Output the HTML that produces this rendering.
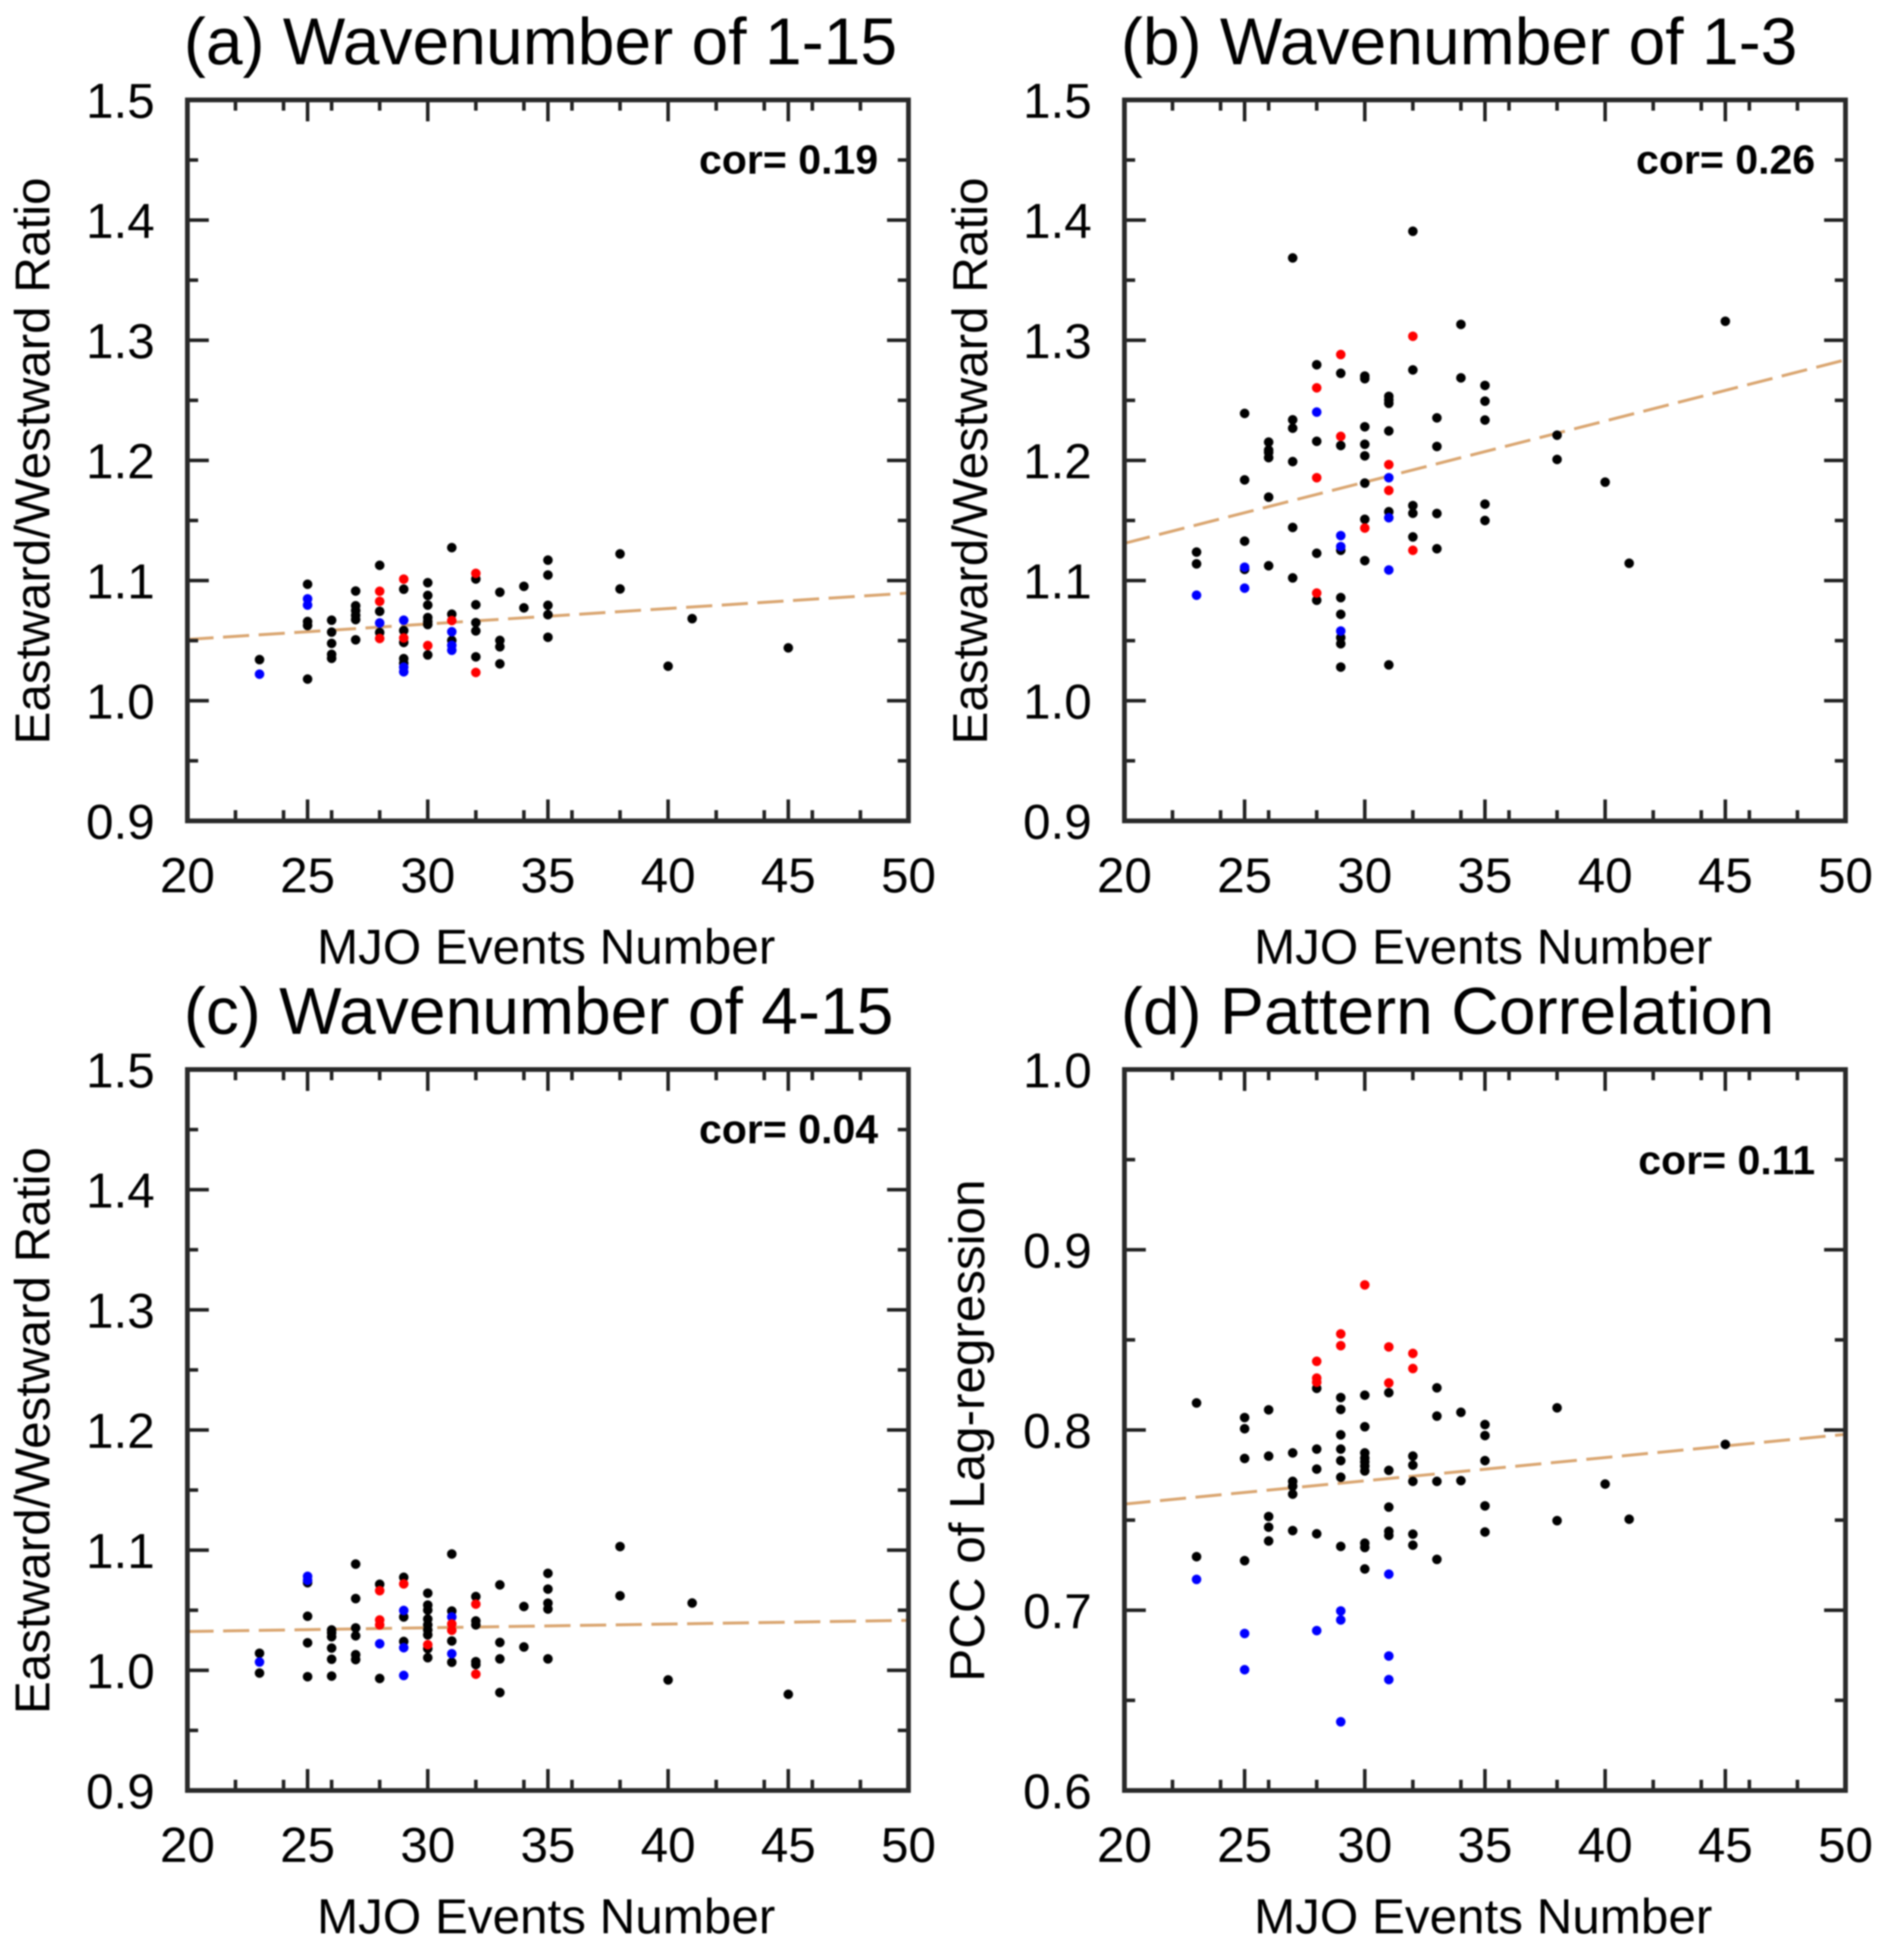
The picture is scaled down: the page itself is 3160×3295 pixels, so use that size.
<!DOCTYPE html>
<html lang="en">
<head>
<meta charset="utf-8">
<title>MJO Events Number vs Propagation Metrics</title>
<style>
html,body{margin:0;padding:0;background:#fff;}
body{width:3160px;height:3295px;overflow:hidden;}
#chart{display:block;filter:blur(1.3px);}
text{font-family:"Liberation Sans",Arial,sans-serif;fill:#000;}
</style>
</head>
<body>
<svg id="chart" xmlns="http://www.w3.org/2000/svg" width="3160" height="3295" viewBox="0 0 3160 3295"></svg>
<script>
// ---------- shared tick labels ----------
const xMajorTicks = [20, 25, 30, 35, 40, 45, 50];
const xMinorTicks = [22, 24, 26, 28, 32, 34, 36, 38, 42, 44, 46, 48];
const ratioMajorTicks = [0.9, 1.0, 1.1, 1.2, 1.3, 1.4, 1.5];
const ratioMinorTicks = [0.95, 1.05, 1.15, 1.25, 1.35, 1.45];
const pccMajorTicks = [0.6, 0.7, 0.8, 0.9, 1.0];
const pccMinorTicks = [0.65, 0.75, 0.85, 0.95];

// ---------- panel (a) ----------
const aBlackX = [23,25,25,25,25,26,26,26,26,26,27,27,27,27,27,27,28,28,28,29,29,29,29,29,30,30,30,30,30,30,30,31,31,31,32,32,32,32,32,33,33,33,33,34,34,35,35,35,35,35,38,38,40,41,45];
const aBlackY = [1.0342,1.0969,1.0659,1.0626,1.018,1.067,1.0571,1.0477,1.0386,1.0353,1.0913,1.079,1.075,1.071,1.0675,1.0507,1.1127,1.0744,1.0568,1.0928,1.0584,1.0485,1.035,1.0312,1.0982,1.0876,1.0796,1.0692,1.0659,1.0634,1.0381,1.1274,1.072,1.0502,1.1013,1.0799,1.065,1.0581,1.0365,1.0903,1.0502,1.0449,1.0307,1.0952,1.0773,1.117,1.1046,1.0794,1.0716,1.0528,1.1222,1.093,1.0287,1.0683,1.044];
const aBlueX = [23,25,25,28,29,29,29,31,31,31];
const aBlueY = [1.0221,1.0848,1.0796,1.0647,1.067,1.0279,1.0241,1.0574,1.0461,1.042];
const aRedX = [28,28,28,29,29,30,31,32,32];
const aRedY = [1.0911,1.0827,1.0518,1.1012,1.0522,1.0459,1.0667,1.106,1.0235];
const aTrend = [1.051, 1.0896];

// ---------- panel (b) ----------
const bBlackX = [23,23,25,25,25,25,26,26,26,26,26,26,27,27,27,27,27,27,28,28,28,28,29,29,29,29,29,29,29,29,30,30,30,30,30,30,30,30,31,31,31,31,31,31,32,32,32,32,32,33,33,33,33,34,34,35,35,35,35,35,38,38,40,41,45];
const bBlackY = [1.1237,1.1139,1.2391,1.1838,1.1328,1.1093,1.2152,1.2086,1.2066,1.2023,1.1694,1.1123,1.3685,1.2338,1.2268,1.199,1.1442,1.1022,1.2796,1.2159,1.1227,1.0836,1.2725,1.2124,1.1252,1.0858,1.0719,1.0525,1.0474,1.028,1.2702,1.268,1.228,1.2134,1.2038,1.1811,1.151,1.1166,1.2533,1.2503,1.2475,1.2245,1.1573,1.0298,1.3907,1.2753,1.1624,1.156,1.1363,1.2354,1.2116,1.1558,1.1265,1.3132,1.2687,1.2624,1.2493,1.2336,1.1636,1.15,1.221,1.2008,1.1819,1.1144,1.3158];
const bBlueX = [23,25,25,28,29,29,29,31,31,31];
const bBlueY = [1.0878,1.1111,1.0937,1.2402,1.1374,1.1283,1.058,1.1856,1.1523,1.1088];
const bRedX = [28,28,28,29,29,30,31,31,32,32];
const bRedY = [1.2604,1.1856,1.0896,1.2881,1.22,1.1437,1.1965,1.175,1.3033,1.1252];
const bTrend = [1.131, 1.2837];

// ---------- panel (c) ----------
const cBlackX = [23,23,25,25,25,25,26,26,26,26,26,26,27,27,27,27,27,27,28,28,29,29,29,30,30,30,30,30,30,30,30,30,31,31,31,31,32,32,32,32,32,33,33,33,33,34,34,35,35,35,35,35,38,38,40,41,45];
const cBlackY = [1.0142,0.9977,1.0729,1.045,1.0229,0.9947,1.0336,1.0312,1.0279,1.0185,1.0092,0.9952,1.0884,1.0597,1.0353,1.0287,1.013,1.0089,1.0716,0.9932,1.0774,1.0444,1.024,1.0642,1.0543,1.0501,1.0427,1.0378,1.0336,1.0295,1.018,1.0105,1.0968,1.0493,1.0244,1.0067,1.0614,1.0411,1.0378,1.0072,1.0048,1.0711,1.0232,1.0095,0.9815,1.0531,1.0194,1.0807,1.0676,1.0559,1.051,1.0095,1.103,1.062,0.992,1.056,0.98];
const cBlueX = [23,25,25,28,29,29,29,31,31];
const cBlueY = [1.0069,1.0782,1.0749,1.0221,1.0498,1.0188,0.9957,1.0444,1.0138];
const cRedX = [28,28,28,29,30,31,31,32,32];
const cRedY = [1.0663,1.0419,1.0378,1.0719,1.0213,1.0386,1.0333,1.0551,0.9968];
const cTrend = [1.0323, 1.0416];

// ---------- panel (d) ----------
const dBlackX = [23,23,25,25,25,25,26,26,26,26,26,27,27,27,27,27,28,28,28,28,29,29,29,29,29,29,29,30,30,30,30,30,30,30,30,30,30,31,31,31,31,31,32,32,32,32,32,33,33,33,33,34,34,35,35,35,35,35,38,38,40,41,45];
const dBlackY = [0.815,0.7297,0.8069,0.8007,0.7842,0.7275,0.8112,0.7855,0.752,0.7461,0.7384,0.7873,0.7715,0.7688,0.7644,0.7442,0.8231,0.7894,0.7783,0.7424,0.818,0.8114,0.7973,0.7894,0.783,0.7738,0.7354,0.8193,0.8018,0.7873,0.7844,0.7823,0.78,0.7773,0.7372,0.7348,0.7229,0.8207,0.7776,0.7572,0.7438,0.7415,0.7855,0.7805,0.7715,0.7422,0.7361,0.8234,0.8077,0.7715,0.7282,0.8098,0.7719,0.803,0.7969,0.783,0.7579,0.7434,0.8123,0.7497,0.77,0.7505,0.792];
const dBlueX = [23,25,25,28,29,29,29,31,31,31];
const dBlueY = [0.7171,0.6871,0.667,0.6887,0.6996,0.6946,0.6381,0.72,0.6746,0.6615];
const dRedX = [28,28,28,29,29,30,31,31,32,32];
const dRedY = [0.8381,0.8288,0.8265,0.8533,0.8468,0.8805,0.8461,0.8261,0.8425,0.8341];
const dTrend = [0.7589, 0.7976];

const SVG_NS = 'http://www.w3.org/2000/svg';
const root = document.getElementById('chart');

function make(parent, tag, attrs) {
  const el = document.createElementNS(SVG_NS, tag);
  for (const k in attrs) el.setAttribute(k, attrs[k]);
  parent.appendChild(el);
  return el;
}

function drawPanel(cfg) {
  const left = cfg.left, top = cfg.top, size = 1212;
  const right = left + size, bottom = top + size;
  const sx = v => left + (v - 20) / 30 * size;
  const sy = v => bottom - (v - cfg.yMin) / (cfg.yMax - cfg.yMin) * size;

  const g = make(root, 'g', {});
  
  

  // title
  const title = make(g, 'text', {x: left - 6, y: top - 60, 'font-size': 111});
  title.textContent = cfg.title;
  
  

  // trend line, clipped at the frame by construction
  const trend = make(g, 'line', {x1: sx(20), y1: sy(cfg.trend[0]), x2: sx(50), y2: sy(cfg.trend[1]), stroke: '#daa671', 'stroke-width': 5, 'stroke-dasharray': '44 16'});
  
  

  // points: black first, then blue, then red on top
  const groups = [
    {xs: cfg.blackX, ys: cfg.blackY, color: '#000'},
    {xs: cfg.blueX, ys: cfg.blueY, color: '#0000ff'},
    {xs: cfg.redX, ys: cfg.redY, color: '#ff0000'}
  ];
  groups.forEach(grp => {
    grp.xs.forEach((xv, i) => {
      const c = make(g, 'circle', {cx: sx(xv), cy: sy(grp.ys[i]), r: 8, fill: grp.color});
      
      
    });
  });

  // ticks on all four sides
  const tick = (x1, y1, x2, y2, name) => {
    const t = make(g, 'line', {x1, y1, x2, y2, stroke: '#222', 'stroke-width': 6});
    
    
  };
  xMajorTicks.forEach(v => { tick(sx(v), bottom, sx(v), bottom - 36, 'x-major-tick'); tick(sx(v), top, sx(v), top + 36, 'x-major-tick'); });
  xMinorTicks.forEach(v => { tick(sx(v), bottom, sx(v), bottom - 18, 'x-minor-tick'); tick(sx(v), top, sx(v), top + 18, 'x-minor-tick'); });
  cfg.yMajor.forEach(v => { tick(left, sy(v), left + 36, sy(v), 'y-major-tick'); tick(right, sy(v), right - 36, sy(v), 'y-major-tick'); });
  cfg.yMinor.forEach(v => { tick(left, sy(v), left + 18, sy(v), 'y-minor-tick'); tick(right, sy(v), right - 18, sy(v), 'y-minor-tick'); });

  // frame
  const frame = make(g, 'rect', {x: left, y: top, width: size, height: size, fill: 'none', stroke: '#2a2a2a', 'stroke-width': 8});
  
  

  // tick labels
  xMajorTicks.forEach(v => {
    const t = make(g, 'text', {x: sx(v), y: bottom + 120, 'font-size': 83, 'text-anchor': 'middle'});
    t.textContent = String(v);
    
    
  });
  cfg.yMajor.forEach(v => {
    const t = make(g, 'text', {x: left - 55, y: sy(v) + 30, 'font-size': 83, 'text-anchor': 'end'});
    t.textContent = v.toFixed(1);
    
    
  });

  // axis titles
  const xt = make(g, 'text', {x: left + size / 2 - 3, y: bottom + 240, 'font-size': 83, 'text-anchor': 'middle'});
  xt.textContent = 'MJO Events Number';
  
  

  const yc = top + size / 2 + 1;
  const yt = make(g, 'text', {x: 0, y: 0, 'font-size': 83, 'text-anchor': 'middle', transform: 'translate(' + (left - cfg.yTitleOffset) + ' ' + yc + ') rotate(-90)'});
  yt.textContent = cfg.yTitle;
  
  

  // correlation label
  const cor = make(g, 'text', {x: left + 1161, y: top + cfg.corDy, 'font-size': 69, 'font-weight': 'bold', 'text-anchor': 'end'});
  cor.textContent = cfg.cor;
  
  
}

drawPanel({id: 'panel-a', left: 315, top: 168, yMin: 0.9, yMax: 1.5, yMajor: ratioMajorTicks, yMinor: ratioMinorTicks,
  title: '(a) Wavenumber of 1-15', yTitle: 'Eastward/Westward Ratio', yTitleOffset: 232, cor: 'cor= 0.19', corDy: 124,
  blackX: aBlackX, blackY: aBlackY, blueX: aBlueX, blueY: aBlueY, redX: aRedX, redY: aRedY, trend: aTrend});
drawPanel({id: 'panel-b', left: 1890, top: 168, yMin: 0.9, yMax: 1.5, yMajor: ratioMajorTicks, yMinor: ratioMinorTicks,
  title: '(b) Wavenumber of 1-3', yTitle: 'Eastward/Westward Ratio', yTitleOffset: 231, cor: 'cor= 0.26', corDy: 124,
  blackX: bBlackX, blackY: bBlackY, blueX: bBlueX, blueY: bBlueY, redX: bRedX, redY: bRedY, trend: bTrend});
drawPanel({id: 'panel-c', left: 315, top: 1798, yMin: 0.9, yMax: 1.5, yMajor: ratioMajorTicks, yMinor: ratioMinorTicks,
  title: '(c) Wavenumber of 4-15', yTitle: 'Eastward/Westward Ratio', yTitleOffset: 232, cor: 'cor= 0.04', corDy: 124,
  blackX: cBlackX, blackY: cBlackY, blueX: cBlueX, blueY: cBlueY, redX: cRedX, redY: cRedY, trend: cTrend});
drawPanel({id: 'panel-d', left: 1890, top: 1798, yMin: 0.6, yMax: 1.0, yMajor: pccMajorTicks, yMinor: pccMinorTicks,
  title: '(d) Pattern Correlation', yTitle: 'PCC of Lag-regression', yTitleOffset: 236, cor: 'cor= 0.11', corDy: 176,
  blackX: dBlackX, blackY: dBlackY, blueX: dBlueX, blueY: dBlueY, redX: dRedX, redY: dRedY, trend: dTrend});
</script>
</body>
</html>
